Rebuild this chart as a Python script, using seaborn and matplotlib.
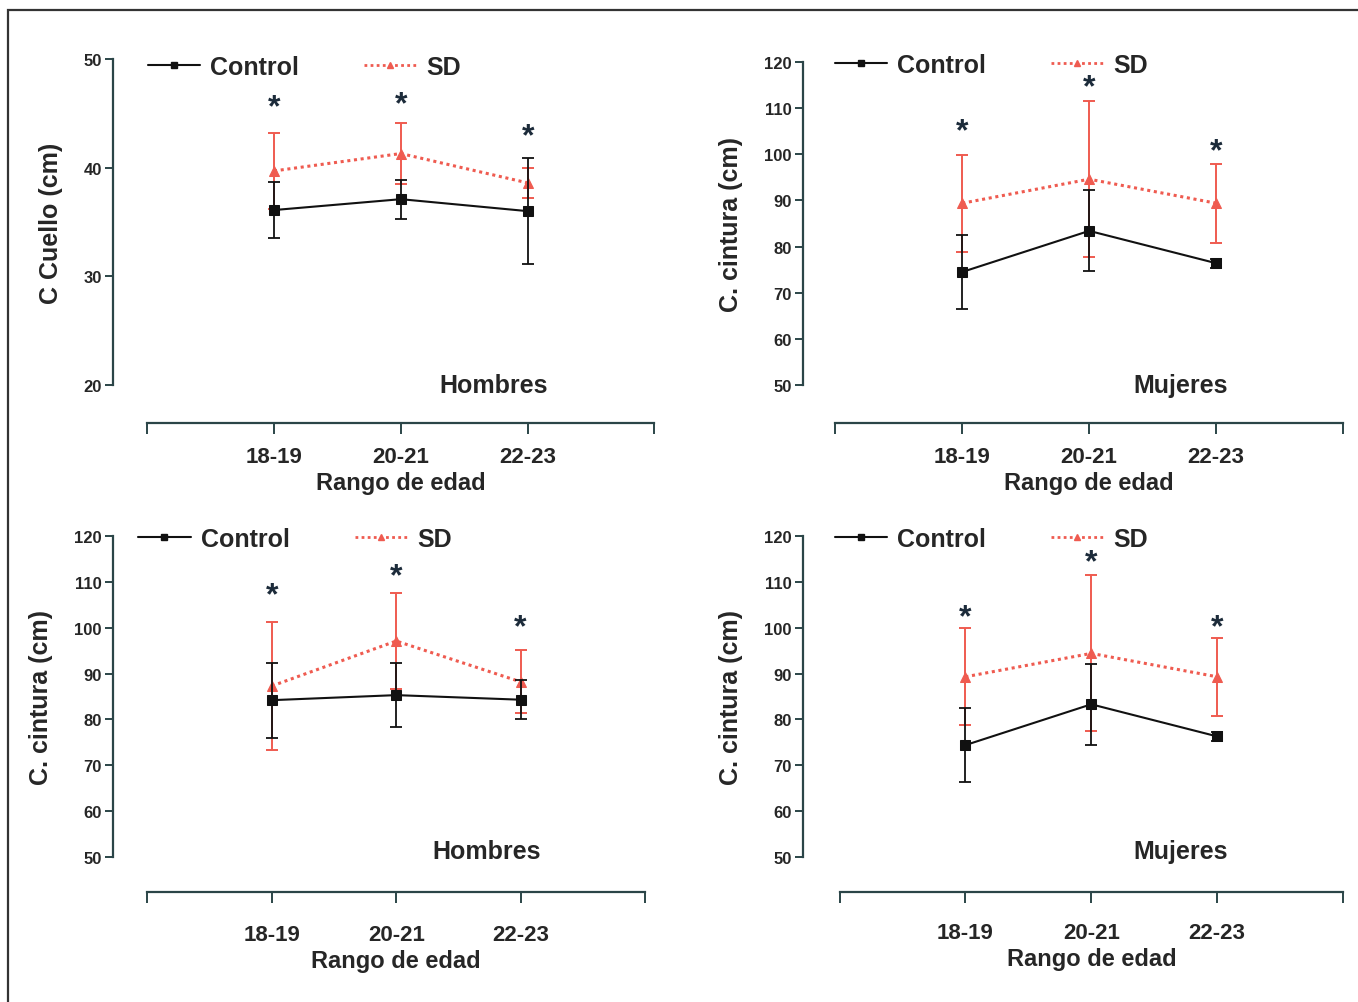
import numpy as np
import pandas as pd
import matplotlib
matplotlib.use("Agg")
import matplotlib.pyplot as plt
from matplotlib.lines import Line2D
from matplotlib.patches import Rectangle
import seaborn as sns

# Data
edades = ["18-19", "20-21", "22-23"]

# panel A: neck circumference, men
cuello_h_control = [36.1, 37.1, 36.0]
cuello_h_control_err = [2.6, 1.8, 4.9]
cuello_h_sd = [39.7, 41.3, 38.6]
cuello_h_sd_err = [3.5, 2.8, 1.4]
cuello_h_star = [45.6, 45.8, 42.9]

# panel B: waist circumference, women
cintura_m_control = [74.5, 83.4, 76.4]
cintura_m_control_err = [8.0, 8.8, 1.0]
cintura_m_sd = [89.4, 94.6, 89.4]
cintura_m_sd_err = [10.5, 16.9, 8.6]
cintura_m_star = [105.0, 114.6, 100.7]

# panel C: waist circumference, men
cintura_h_control = [84.2, 85.3, 84.3]
cintura_h_control_err = [8.2, 6.9, 4.3]
cintura_h_sd = [87.3, 97.1, 88.2]
cintura_h_sd_err = [14.0, 10.5, 6.9]
cintura_h_star = [107.0, 111.3, 100.0]

# panel D: waist circumference, women (repeated)
cintura_m2_control = [74.4, 83.3, 76.3]
cintura_m2_control_err = [8.0, 8.8, 1.0]
cintura_m2_sd = [89.3, 94.4, 89.3]
cintura_m2_sd_err = [10.6, 17.0, 8.5]
cintura_m2_star = [102.3, 114.3, 100.0]

BLACK = "#111111"
RED = "#ef5b50"
SPINE = "#2b4548"
STAR = "#1c2b3a"

sns.set_style("white")
plt.rcParams["font.family"] = ["Liberation Sans Narrow", "Liberation Sans", "DejaVu Sans"]
plt.rcParams["font.weight"] = "bold"

fig = plt.figure(figsize=(13.58, 10.03), dpi=100)
W, H = 1358.0, 1003.0

fig.patches.append(Rectangle((8 / W, -0.02), 1.2, 1 - 11 / H + 0.02, transform=fig.transFigure,
                             fill=False, edgecolor="#333333", linewidth=1.6))


def panel(box, xlim, ylim, yticks, ylabel, tag, ctrl, ctrl_err, sd, sd_err, stars,
          leg_xy, tag_xy, offset, xpad):
    l, t, r, b = box
    ax = fig.add_axes([l / W, 1 - b / H, (r - l) / W, (b - t) / H])
    pos = np.arange(len(edades))
    df = pd.DataFrame({
        "pos": np.concatenate([pos, pos]),
        "valor": ctrl + sd,
        "grupo": ["Control"] * 3 + ["SD"] * 3,
    })
    sns.lineplot(data=df[df.grupo == "Control"], x="pos", y="valor", ax=ax, color=BLACK,
                 lw=1.5, marker="s", markersize=7, markeredgecolor=BLACK, zorder=4, legend=False)
    sns.lineplot(data=df[df.grupo == "SD"], x="pos", y="valor", ax=ax, color=RED,
                 lw=2.2, ls=(0, (1, 1.2)), marker="^", markersize=7, markeredgecolor=RED,
                 zorder=3, legend=False)
    ax.errorbar(pos, sd, yerr=sd_err, fmt="none", ecolor=RED, elinewidth=1.4,
                capsize=4, capthick=1.4, zorder=2)
    ax.errorbar(pos, ctrl, yerr=ctrl_err, fmt="none", ecolor=BLACK, elinewidth=1.3,
                capsize=4, capthick=1.3, zorder=5)
    for p, s in zip(pos, stars):
        ax.text(p, s, "*", ha="center", va="center", fontsize=23, color=STAR,
                fontweight="bold")

    ax.set_xlim(*xlim)
    ax.set_ylim(*ylim)
    ax.set_yticks(yticks)
    ax.set_xticks([-1, 0, 1, 2, 3])
    ax.set_xticklabels([""] + edades + [""])
    for s in ["top", "right"]:
        ax.spines[s].set_visible(False)
    for s in ["left", "bottom"]:
        ax.spines[s].set_color(SPINE)
        ax.spines[s].set_linewidth(1.6)
    ax.spines["bottom"].set_position(("outward", offset))
    ax.spines["bottom"].set_bounds(-1, 3)
    ax.tick_params(axis="y", left=True, direction="out", length=6, width=1.4, color=SPINE,
                   labelsize=12, pad=2)
    ax.tick_params(axis="x", bottom=True, direction="out", length=8, width=1.4, color=SPINE,
                   labelsize=16, pad=xpad)
    for lab in ax.get_yticklabels() + ax.get_xticklabels():
        lab.set_fontweight("bold")
    ax.set_xlabel("Rango de edad", fontsize=17, fontweight="bold", labelpad=3)
    # centre the x label under the middle age group
    ax.xaxis.label.set_x((1 - xlim[0]) / (xlim[1] - xlim[0]))
    ax.set_ylabel(ylabel, fontsize=18, fontweight="bold", labelpad=15)
    ax.text(tag_xy[0], tag_xy[1], tag, transform=ax.transAxes, ha="center", va="center",
            fontsize=18, fontweight="bold")

    handles = [
        Line2D([], [], color=BLACK, lw=1.5, marker="s", markersize=5, label="Control"),
        Line2D([], [], color=RED, lw=2, ls=(0, (1, 1.2)), marker="^", markersize=5,
               label="SD"),
    ]
    ax.legend(handles=handles, loc="center left", bbox_to_anchor=leg_xy,
              ncol=2, frameon=False, borderpad=0, borderaxespad=0, handlelength=2.1,
              handletextpad=0.4, columnspacing=2.6, prop={"size": 18, "weight": "bold"})
    return ax


panel((113, 60, 657, 386), (-1.27, 3.02), (20, 50), [20, 30, 40, 50], "C Cuello (cm)",
      "Hombres", cuello_h_control, cuello_h_control_err, cuello_h_sd, cuello_h_sd_err,
      cuello_h_star, (0.064, 0.975), (0.70, 0.0), 27, 9)
panel((803, 63, 1343, 386), (-1.255, 3.0), (50, 120), list(range(50, 121, 10)),
      "C. cintura (cm)", "Mujeres", cintura_m_control, cintura_m_control_err,
      cintura_m_sd, cintura_m_sd_err, cintura_m_star, (0.059, 0.99), (0.70, 0.0), 27, 9)
panel((113, 537, 650, 858), (-1.277, 3.04), (50, 120), list(range(50, 121, 10)),
      "C. cintura (cm)", "Hombres", cintura_h_control, cintura_h_control_err,
      cintura_h_sd, cintura_h_sd_err, cintura_h_star, (0.047, 0.99), (0.696, 0.02), 25, 15)
panel((803, 537, 1343, 858), (-1.29, 2.99), (50, 120), list(range(50, 121, 10)),
      "C. cintura (cm)", "Mujeres", cintura_m2_control, cintura_m2_control_err,
      cintura_m2_sd, cintura_m2_sd_err, cintura_m2_star, (0.059, 0.99), (0.70, 0.02), 25, 14)

fig.savefig("out.png", dpi=100)
